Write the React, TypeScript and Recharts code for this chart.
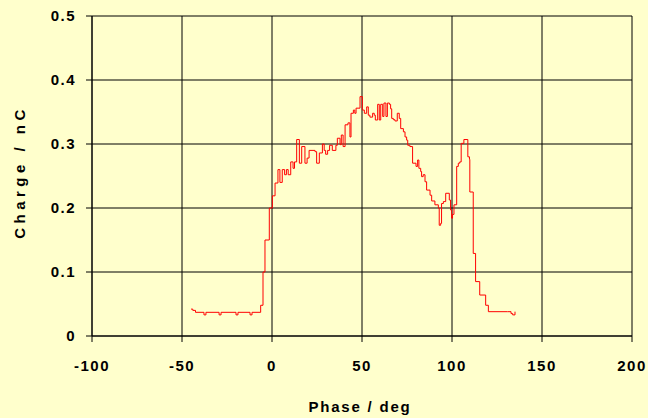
import React from 'react';
import { LineChart, Line, XAxis, YAxis, CartesianGrid } from 'recharts';

const phase: number[] = [
  -45, -44, -42.5, -37.8, -36.7, -29.4, -28.3, -20, -18.9, -12.2, -11.1, -6.3, -5, -3.9, -1.5,
  0.2, 1.7, 3.3, 4.4, 5.7, 7, 8, 9, 10.4, 11.7, 12.5, 13.7, 15.2, 16.5, 18.3, 19.5, 20.6, 23.9,
  24.8, 26.3, 28, 29, 29.8, 30.9, 32, 33.5, 35.5, 36.3, 37.8, 38.5, 39.5, 40.6, 42.2, 43.3, 43.9,
  45.2, 46, 46.7, 48.9, 50.2, 51.3, 52.6, 53.5, 54.4, 55.9, 56.8, 57.4, 58.7, 59.6, 60.4, 61.5,
  62.2, 63.3, 64.1, 65.2, 65.9, 66.5, 67.4, 68.3, 69.6, 70.7, 71.5, 73, 73.9, 74.8, 75.4, 76.6,
  78.1, 80, 80.9, 81.6, 82.6, 83.1, 84, 85, 85.9, 87.8, 88.7, 90.5, 92.4, 92.9, 93.7, 94.2, 95.2,
  96.5, 98.5, 99.2, 99.8, 100.3, 101.1, 102.6, 103.5, 104.3, 105.1, 106.6, 108.8, 109.7, 109.9,
  111.8, 113.1, 115.4, 118.7, 120.2, 130.9, 132.8, 133.7, 135,
];

const charge: number[] = [
  0.042, 0.040, 0.037, 0.033, 0.037, 0.033, 0.037, 0.033, 0.037, 0.033, 0.037, 0.048, 0.1, 0.15, 0.2,
  0.219, 0.239, 0.26, 0.24, 0.26, 0.252, 0.26, 0.252, 0.272, 0.262, 0.272, 0.307, 0.27, 0.296, 0.27, 0.278, 0.29, 0.288,
  0.27, 0.286, 0.3, 0.29, 0.284, 0.29, 0.298, 0.29, 0.298, 0.309, 0.299, 0.314, 0.296, 0.33, 0.333, 0.311, 0.348,
  0.353, 0.348, 0.356, 0.374, 0.353, 0.348, 0.358, 0.345, 0.342, 0.348, 0.345, 0.3375, 0.362, 0.3375, 0.362, 0.343,
  0.364, 0.343, 0.364, 0.362, 0.355, 0.34, 0.338, 0.336, 0.348, 0.34, 0.324, 0.319, 0.311, 0.306, 0.298, 0.296,
  0.27, 0.265, 0.275, 0.262, 0.257, 0.249, 0.252, 0.241, 0.228, 0.22, 0.211, 0.205, 0.2, 0.173, 0.176, 0.207, 0.21,
  0.223, 0.2125, 0.197, 0.184, 0.19, 0.205, 0.265, 0.27, 0.272, 0.301, 0.307, 0.28, 0.276, 0.225,
  0.129, 0.085, 0.064, 0.048, 0.038, 0.038, 0.035, 0.033, 0.038,
];

const xTicks = [-100, -50, 0, 50, 100, 150, 200];
const yTicks = [0, 0.1, 0.2, 0.3, 0.4, 0.5];

const data = phase.map((p, i) => ({ phase: p, charge: charge[i] }));

const FONT = '"Liberation Sans", Arial, sans-serif';

export default function App() {
  const tickStyle = { fontFamily: FONT, fontSize: 15, fontWeight: 700, fill: '#000', letterSpacing: 1.5 };
  return (
    <div style={{ position: 'absolute', left: 0, top: 0, width: 648, height: 418, background: '#FFFFCC' }}>
      <LineChart width={648} height={418} data={data} margin={{ top: 16, right: 16, left: 32, bottom: 52 }}>
        <CartesianGrid stroke="#000" strokeWidth={1} ticks={undefined} />
        <XAxis
          dataKey="phase"
          type="number"
          domain={[-100, 200]}
          ticks={xTicks}
          allowDataOverflow
          stroke="#000"
          tickSize={6}
          tickMargin={18}
          height={30}
          tick={tickStyle}
          interval={0}
        />
        <YAxis
          type="number"
          domain={[0, 0.5]}
          ticks={yTicks}
          allowDataOverflow
          stroke="#000"
          tickSize={6}
          tickMargin={10}
          width={60}
          tick={tickStyle}
          interval={0}
        />
        <Line
          dataKey="charge"
          type="stepAfter"
          stroke="#FF0000"
          strokeWidth={1}
          dot={false}
          isAnimationActive={false}
        />
      </LineChart>
      <div
        style={{
          position: 'absolute', left: 360, top: 406, transform: 'translate(-50%, -50%)',
          fontFamily: FONT, fontSize: 15, fontWeight: 700, letterSpacing: 1.8, whiteSpace: 'nowrap', color: '#000',
        }}
      >
        Phase / deg
      </div>
      <div
        style={{
          position: 'absolute', left: 19, top: 172, transform: 'translate(-50%, -50%) rotate(-90deg)',
          fontFamily: FONT, fontSize: 15, fontWeight: 700, letterSpacing: 4.5, whiteSpace: 'nowrap', color: '#000',
        }}
      >
        Charge / nC
      </div>
    </div>
  );
}
